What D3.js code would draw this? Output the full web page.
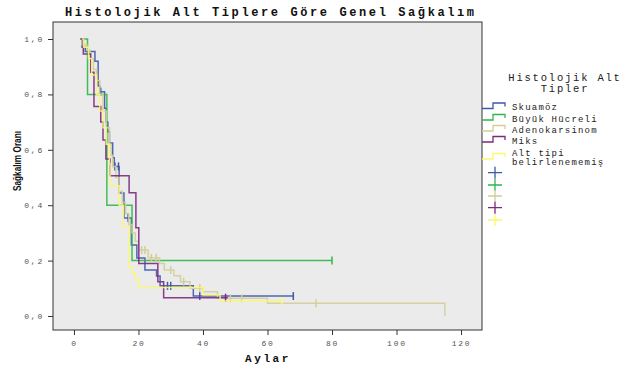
<!DOCTYPE html>
<html>
<head>
<meta charset="utf-8">
<script src="https://cdn.jsdelivr.net/npm/d3@7"></script>
<style>
  body { margin: 0; background: #fff; }
  svg { display: block; }
</style>
</head>
<body>
<div id="chart"></div>
<script>
// groups and their SPSS default colours
const groups = ['Skuamöz', 'Büyük Hücreli', 'Adenokarsinom', 'Miks', 'Alt tipi belirlenememiş'];
const colors = ['#3E58AC', '#2EB848', '#D3CE97', '#7C287D', '#FBF873'];

// survival steps [month, cumulative survival]
const skuamozSteps = [[2, 1], [2.5, 0.97], [3.5, 0.955], [6.5, 0.92], [7.5, 0.83], [8, 0.81], [9.5, 0.75], [10, 0.7], [10.5, 0.665], [11, 0.625], [12, 0.571], [12.5, 0.54], [14, 0.444], [15.5, 0.354], [17.8, 0.256], [19.5, 0.209], [22, 0.166], [25.6, 0.144], [26.7, 0.109], [37, 0.072], [68, 0.072]];
const buyukSteps = [[2.7, 1], [4.2, 0.8], [10.2, 0.4], [18, 0.2], [80, 0.2]];
const adenoSteps = [[2, 1], [2.5, 0.98], [4, 0.96], [5, 0.93], [6, 0.89], [7, 0.85], [8, 0.8], [9, 0.74], [10, 0.68], [11, 0.62], [11.5, 0.58], [12, 0.54], [13, 0.5], [14, 0.45], [15, 0.41], [16, 0.37], [17, 0.33], [18, 0.3], [19, 0.27], [20, 0.238], [23, 0.21], [26.5, 0.19], [28, 0.166], [31, 0.145], [33, 0.124], [36, 0.1], [40, 0.088], [44.5, 0.064], [60, 0.046], [115, 0]];
const miksSteps = [[2, 1], [2.9, 0.946], [5.2, 0.88], [6.2, 0.756], [8.3, 0.7], [9, 0.635], [9.9, 0.567], [11.2, 0.506], [17.1, 0.445], [19.2, 0.319], [20.1, 0.19], [26, 0.124], [27.8, 0.066], [47.7, 0.066]];
const altTipiSteps = [[2.5, 1], [3, 0.97], [4.5, 0.93], [5.5, 0.87], [7, 0.8], [8, 0.74], [9, 0.68], [10, 0.62], [11, 0.55], [11.2, 0.47], [14, 0.4], [15.3, 0.32], [17.1, 0.178], [18.1, 0.154], [19.1, 0.13], [20, 0.103], [40, 0.076], [45.3, 0.054], [64.4, 0.054]];

// censored months
const skuamozCensor = [8.3, 12.7, 13.8, 16.8, 29, 30, 39, 68];
const buyukCensor = [80];
const adenoCensor = [21, 22, 24, 25.5, 30, 34, 39, 48.5, 52, 75];
const miksCensor = [47];
const altTipiCensor = [64.4];

const allSteps = [skuamozSteps, buyukSteps, adenoSteps, miksSteps, altTipiSteps];
const allCensor = [skuamozCensor, buyukCensor, adenoCensor, miksCensor, altTipiCensor];

const xTicks = [0, 20, 40, 60, 80, 100, 120];
const yTicks = [0, 0.2, 0.4, 0.6, 0.8, 1.0];

const width = 623;
const height = 365;
const plot = { left: 53, top: 22, right: 482, bottom: 330 };

const svg = d3.select('#chart').append('svg')
  .attr('width', width)
  .attr('height', height);

const x = d3.scaleLinear().domain([-6.5, 126.5]).range([plot.left, plot.right]);
const y = d3.scaleLinear().domain([-0.0505, 1.0614]).range([plot.bottom, plot.top]);

svg.append('rect')
  .attr('x', plot.left).attr('y', plot.top)
  .attr('width', plot.right - plot.left)
  .attr('height', plot.bottom - plot.top)
  .attr('fill', '#ebebeb')
  .attr('stroke', '#333')
  .attr('stroke-width', 1);

const mono = '"Liberation Mono", "DejaVu Sans Mono", monospace';
const comma = d => d3.format('.1f')(d).replace('.', ',');

// axes
const yAxis = svg.append('g')
  .attr('transform', `translate(${plot.left},0)`)
  .call(d3.axisLeft(y).tickValues(yTicks).tickSize(5).tickPadding(4).tickFormat(comma));
const xAxis = svg.append('g')
  .attr('transform', `translate(0,${plot.bottom})`)
  .call(d3.axisBottom(x).tickValues(xTicks).tickSize(5).tickPadding(5));

[xAxis, yAxis].forEach(a => {
  a.select('.domain').remove();
  a.selectAll('line').attr('stroke', '#333');
  a.selectAll('text')
    .attr('fill', '#555')
    .style('font-family', mono)
    .style('font-size', '8px')
    .style('letter-spacing', '1.8px');
});

// step curves
const line = d3.line()
  .x(d => x(d[0]))
  .y(d => y(d[1]))
  .curve(d3.curveStepAfter);

function survivalAt(steps, t) {
  let s = steps[0][1];
  for (const st of steps) {
    if (st[0] <= t) s = st[1];
  }
  return s;
}

allSteps.forEach((steps, i) => {
  svg.append('path')
    .datum(steps)
    .attr('d', line)
    .attr('fill', 'none')
    .attr('stroke', colors[i])
    .attr('stroke-width', 1.5)
    .attr('stroke-opacity', 0.9);

  svg.selectAll(null)
    .data(allCensor[i])
    .enter()
    .append('line')
    .attr('x1', d => x(d)).attr('x2', d => x(d))
    .attr('y1', d => y(survivalAt(steps, d)) - 4)
    .attr('y2', d => y(survivalAt(steps, d)) + 4)
    .attr('stroke', colors[i])
    .attr('stroke-width', 1.5);
});

// titles
svg.append('text')
  .attr('x', 65).attr('y', 16)
  .style('font-family', mono)
  .style('font-weight', 'bold')
  .style('font-size', '12px')
  .style('letter-spacing', '2.6px')
  .attr('fill', '#111')
  .text('Histolojik Alt Tiplere Göre Genel Sağkalım');

svg.append('text')
  .attr('x', 268).attr('y', 362)
  .attr('text-anchor', 'middle')
  .style('font-family', mono)
  .style('font-weight', 'bold')
  .style('font-size', '11px')
  .style('letter-spacing', '2.6px')
  .attr('fill', '#111')
  .text('Aylar');

svg.append('text')
  .attr('transform', 'translate(21,161) rotate(-90)')
  .attr('text-anchor', 'middle')
  .attr('textLength', 60)
  .attr('lengthAdjust', 'spacingAndGlyphs')
  .style('font-family', '"Liberation Sans", Arial, sans-serif')
  .style('font-weight', 'bold')
  .style('font-size', '10px')
  .attr('fill', '#111')
  .text('Sağkalım Oranı');

// legend
const legend = svg.append('g');
legend.selectAll(null)
  .data(['Histolojik Alt', 'Tipler'])
  .enter()
  .append('text')
  .attr('x', 565)
  .attr('y', (d, i) => 81 + i * 11)
  .attr('text-anchor', 'middle')
  .style('font-family', mono)
  .style('font-size', '10.5px')
  .style('letter-spacing', '1.8px')
  .attr('fill', '#222')
  .text(d => d);

const rowY = [108.5, 120, 131, 142, 159];
groups.forEach((g, i) => {
  const ly = rowY[i];
  legend.append('path')
    .attr('d', `M482,${ly}H493V${ly - 5.5}H505V${ly - 2}`)
    .attr('fill', 'none')
    .attr('stroke', colors[i])
    .attr('stroke-width', 1.3);
  const lines = i === 4 ? ['Alt tipi', 'belirlenememiş'] : [g];
  lines.forEach((t, j) => {
    legend.append('text')
      .attr('x', 512)
      .attr('y', (i === 4 ? 155.5 : ly + 1.5) + j * 9)
      .style('font-family', mono)
      .style('font-size', '9px')
      .style('letter-spacing', '1.2px')
      .attr('fill', '#222')
      .text(t);
  });
});

const crossY = [172.7, 185, 196, 207.7, 220];
crossY.forEach((cy, i) => {
  legend.append('path')
    .attr('d', `M488,${cy}H502M495,${cy - 6}V${cy + 6}`)
    .attr('stroke', colors[i])
    .attr('stroke-width', 1.3);
});
</script>
</body>
</html>
